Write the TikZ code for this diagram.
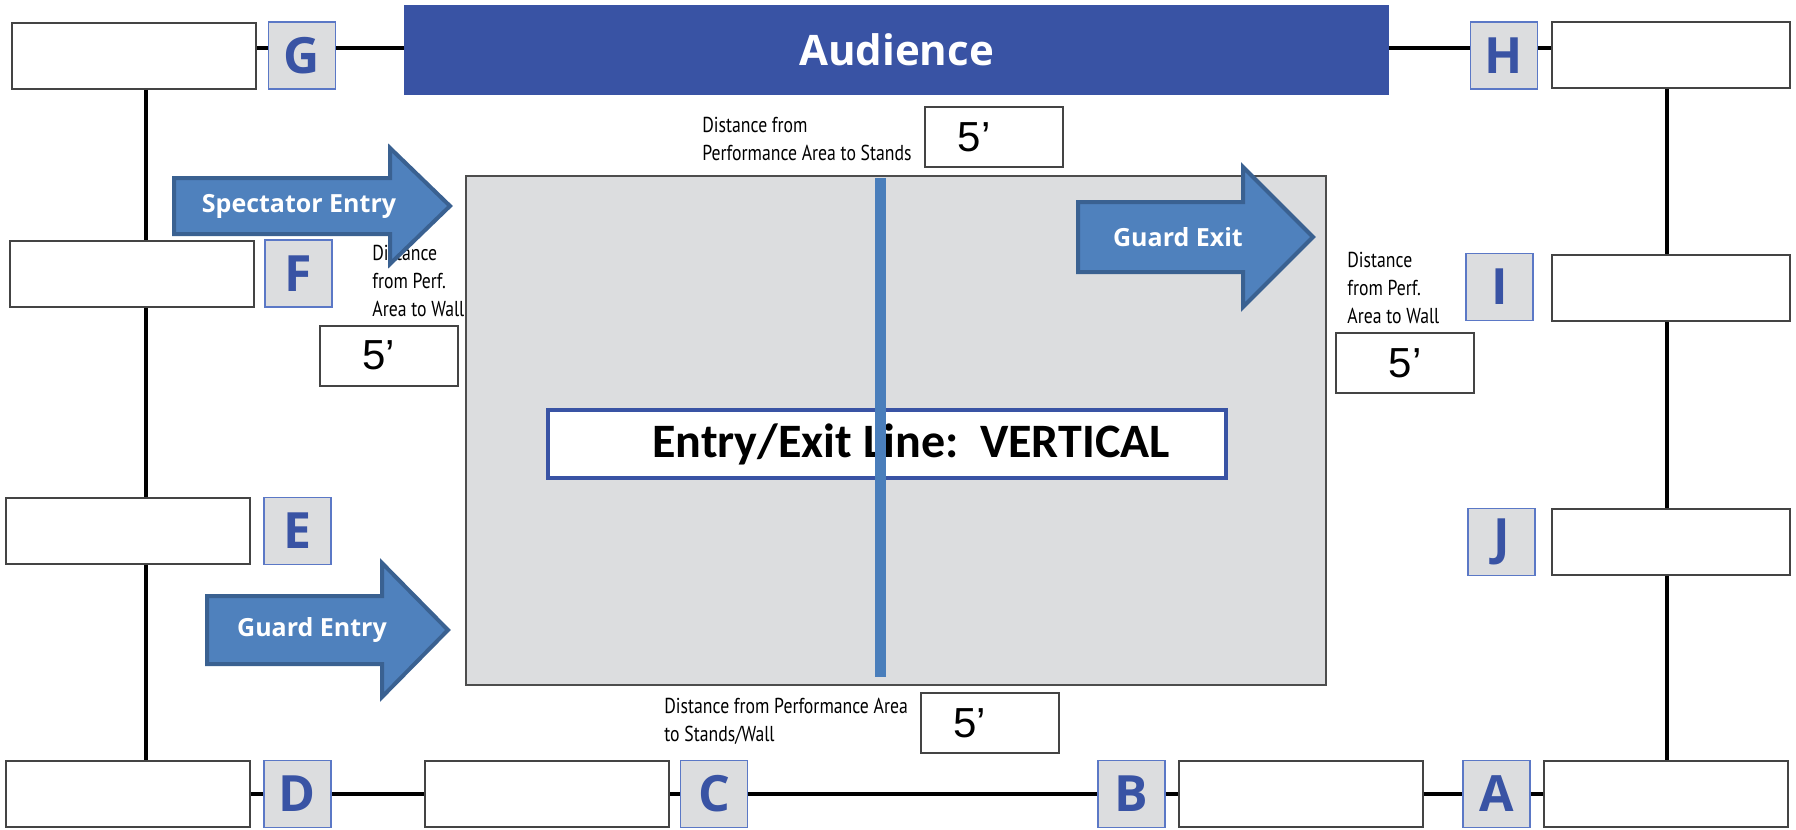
\documentclass[tikz,border=0pt]{standalone}
\usepackage{fontspec}
\setmainfont{Open Sans}
\newfontfamily\narrowfont[FakeStretch=0.82]{PT Sans}
\newfontfamily\calfont{Carlito}
\newfontfamily\arialfont{Liberation Sans}

\definecolor{audblue}{HTML}{3953A4}
\definecolor{tagfill}{HTML}{DCDDDF}
\definecolor{tagline}{HTML}{5B78C6}
\definecolor{arrowfill}{HTML}{4F81BD}
\definecolor{arrowline}{HTML}{3A6191}
\definecolor{stagefill}{HTML}{DCDDDF}
\definecolor{stageline}{HTML}{4D4D4D}
\definecolor{axisblue}{HTML}{4A7EBB}
\definecolor{boxgray}{HTML}{444444}

\begin{document}
\begin{tikzpicture}[x=0.5pt,y=-0.5pt,
	blank/.style={draw=boxgray,line width=1pt,fill=white,inner sep=0pt,
		minimum width=122pt,minimum height=33pt},
	letter/.style={draw=tagline,line width=0.8pt,fill=tagfill,inner sep=0pt,
		minimum width=33.5pt,minimum height=33.5pt,text=audblue,
		font=\fontsize{25}{25}\selectfont\bfseries},
	audience/.style={fill=audblue,inner sep=0pt,minimum width=492.5pt,
		minimum height=45pt,text=white,font=\fontsize{21}{21}\selectfont\bfseries},
	link/.style={line width=1.6pt,black},
	stage/.style={draw=stageline,line width=1pt,fill=stagefill,inner sep=0pt,
		minimum width=430pt,minimum height=254.5pt},
	note/.style={inner sep=0pt,align=left,text=black,
		font=\narrowfont\fontsize{10.8}{14}\selectfont},
	feet/.style={draw=boxgray,line width=1pt,fill=white,inner sep=0pt,
		minimum width=69pt,minimum height=30pt,font=\arialfont\fontsize{21}{21}\selectfont},
	arrowshape/.style={draw=arrowline,line width=2pt,fill=arrowfill,line join=miter},
	arrowtext/.style={inner sep=0pt,text=white,font=\fontsize{12.5}{12.5}\selectfont\bfseries},
	linebox/.style={draw=audblue,line width=2pt,fill=white,inner sep=0pt,
		minimum width=339pt,minimum height=34pt,font=\calfont\fontsize{24}{24}\selectfont\bfseries},
	axis/.style={axisblue,line width=5.5pt}]

	\useasboundingbox (0,0) rectangle (1796,830);

	\node[blank] (boxG) at (133.5,55.5) {};
	\node[letter] (labG) at (302,55.5) {G};
	\node[audience] (aud) at (896.5,50) {Audience};
	\node[letter] (labH) at (1504,55.5) {H};
	\node[blank,minimum width=119pt] (boxH) at (1671,54.5) {};

	\node[blank] (boxF) at (131.5,273.5) {};
	\node[letter] (labF) at (298.5,273.5) {F};
	\node[blank] (boxE) at (128,531) {};
	\node[letter] (labE) at (297.5,531) {E};

	\node[letter] (labI) at (1499.5,287) {I};
	\node[blank,minimum width=119pt] (boxI) at (1671,288) {};
	\node[letter] (labJ) at (1501.5,542) {J};
	\node[blank,minimum width=119pt] (boxJ) at (1671,541.5) {};

	\node[blank] (boxD) at (128,794) {};
	\node[letter] (labD) at (297.5,794) {D};
	\node[blank] (boxC) at (547,794) {};
	\node[letter] (labC) at (714,794) {C};
	\node[letter] (labB) at (1131.5,794) {B};
	\node[blank] (boxB) at (1300.5,794) {};
	\node[letter] (labA) at (1496.5,794) {A};
	\node[blank] (boxA) at (1666,794) {};

	\coordinate (west) at (146,0);
	\coordinate (east) at (1667,0);
	\coordinate (top) at (0,48);

	\draw[link] (boxG.east |- top) -- (labG.west |- top);
	\draw[link] (labG.east |- top) -- (aud.west |- top);
	\draw[link] (aud.east |- top) -- (labH.west |- top);
	\draw[link] (labH.east |- top) -- (boxH.west |- top);

	\draw[link] (boxG.south -| west) -- (boxF.north -| west);
	\draw[link] (boxF.south -| west) -- (boxE.north -| west);
	\draw[link] (boxE.south -| west) -- (boxD.north -| west);
	\draw[link] (boxH.south -| east) -- (boxI.north -| east);
	\draw[link] (boxI.south -| east) -- (boxJ.north -| east);
	\draw[link] (boxJ.south -| east) -- (boxA.north -| east);

	\draw[link] (boxD) -- (labD) -- (boxC) -- (labC) -- (labB) -- (boxB) -- (labA) -- (boxA);

	\node[stage] (perf) at (896,430.5) {};

	\node[note,anchor=west] (topNote) at (702,138.5) {Distance from\\Performance Area to Stands};
	\node[note,anchor=west] (leftNote) at (372,281) {Distance\\from Perf.\\Area to Wall};
	\node[note,anchor=west] (rightNote) at (1347,288) {Distance\\from Perf.\\Area to Wall};
	\node[note,anchor=west] (botNote) at (664,721) {Distance from Performance Area\\to Stands/Wall};

	\node[feet] (topFt) at (994,137) {5’\hspace*{20pt}};
	\node[feet] (leftFt) at (388.5,355.5) {5’\hspace*{10pt}};
	\node[feet] (rightFt) at (1405,363) {5’};
	\node[feet] (botFt) at (989.5,723) {5’\hspace*{20pt}};

	\draw[arrowshape] (174,178) -- (390,178) -- (390,148) -- (450,206) -- (390,264) -- (390,234) -- (174,234) -- cycle;
	\node[arrowtext] (specText) at (299,206) {Spectator Entry};
	\draw[arrowshape] (207,596) -- (382,596) -- (382,563) -- (448,630) -- (382,697) -- (382,664) -- (207,664) -- cycle;
	\node[arrowtext] (entryText) at (312,630) {Guard Entry};
	\draw[arrowshape] (1078,202) -- (1243,202) -- (1243,167) -- (1313,237) -- (1243,307) -- (1243,272) -- (1078,272) -- cycle;
	\node[arrowtext] (exitText) at (1178,237) {Guard Exit};

	\node[linebox] (lineBox) at (887,444) {\hspace*{24pt}Entry/Exit Line:\ \ VERTICAL};
	\draw[axis] (880,178) -- (880,677);
\end{tikzpicture}
\end{document}
